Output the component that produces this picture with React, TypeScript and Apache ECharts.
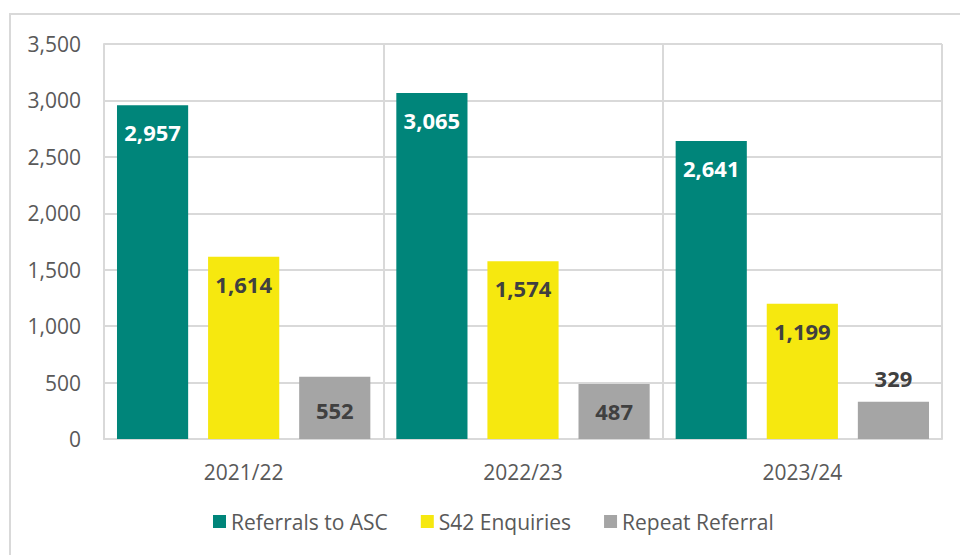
import React, { useEffect, useRef } from "react";
import * as echarts from "echarts";

const categories = ["2021/22", "2022/23", "2023/24"];
const referrals = [2957, 3065, 2641];
const s42 = [1614, 1574, 1199];
const repeat = [552, 487, 329];
const seriesNames = ["Referrals to ASC", "S42 Enquiries", "Repeat Referral"];

const FONT = "'Open Sans', sans-serif";
const fmt = (v: number) => v.toLocaleString("en-GB");

export default function App() {
  const ref = useRef<HTMLDivElement>(null);
  useEffect(() => {
    const chart = echarts.init(ref.current!, null, { renderer: "svg" });
    const labelBase = {
      show: true,
      position: "insideTop" as const,
      distance: 16,
      fontFamily: FONT,
      fontSize: 22,
      fontWeight: "bold" as const,
      formatter: (p: any) => fmt(p.value),
    };
    chart.setOption({
      animation: false,
      backgroundColor: "#ffffff",
      textStyle: { fontFamily: FONT },
      graphic: [
        {
          type: "rect",
          shape: { x: 10, y: 14, width: 970, height: 570 },
          style: { fill: "none", stroke: "#d9d9d9", lineWidth: 2 },
          silent: true,
        },
      ],
      grid: { left: 104, right: 18, top: 44, bottom: 116 },
      legend: {
        left: 213,
        top: 511,
        padding: 0,
        itemWidth: 13,
        itemHeight: 13,
        itemGap: 33,
        icon: "rect",
        textStyle: { color: "#595959", fontSize: 21, fontFamily: FONT },
        data: seriesNames,
      },
      xAxis: {
        type: "category",
        data: categories,
        axisTick: { show: false },
        axisLine: { show: true, lineStyle: { color: "#d9d9d9", width: 2 } },
        splitLine: { show: true, lineStyle: { color: "#d9d9d9", width: 2 } },
        axisLabel: { color: "#595959", fontSize: 21, fontFamily: FONT, margin: 22 },
      },
      yAxis: {
        type: "value",
        min: 0,
        max: 3500,
        interval: 500,
        axisLine: { show: true, lineStyle: { color: "#d9d9d9", width: 2 } },
        axisTick: { show: false },
        splitLine: { show: true, lineStyle: { color: "#d9d9d9", width: 2 } },
        axisLabel: {
          color: "#595959",
          fontSize: 21,
          fontFamily: FONT,
          margin: 23,
          formatter: (v: number) => fmt(v),
        },
      },
      series: [
        {
          name: seriesNames[0],
          type: "bar",
          data: referrals,
          barGap: "28%",
          barCategoryGap: "9.3%",
          itemStyle: { color: "#00857a" },
          label: { ...labelBase, color: "#ffffff" },
        },
        {
          name: seriesNames[1],
          type: "bar",
          data: s42,
          itemStyle: { color: "#f6e80f" },
          label: { ...labelBase, color: "#404040" },
        },
        {
          name: seriesNames[2],
          type: "bar",
          data: repeat.map((v, i) =>
            i === 2
              ? { value: v, label: { position: "top", distance: 13 } }
              : i === 0
              ? { value: v, label: { distance: 22 } }
              : v
          ),
          itemStyle: { color: "#a5a5a5" },
          label: { ...labelBase, color: "#404040" },
        },
      ],
    });
    return () => chart.dispose();
  }, []);
  return (
    <div
      ref={ref}
      style={{ position: "fixed", left: 0, top: 0, width: 960, height: 555 }}
    />
  );
}
